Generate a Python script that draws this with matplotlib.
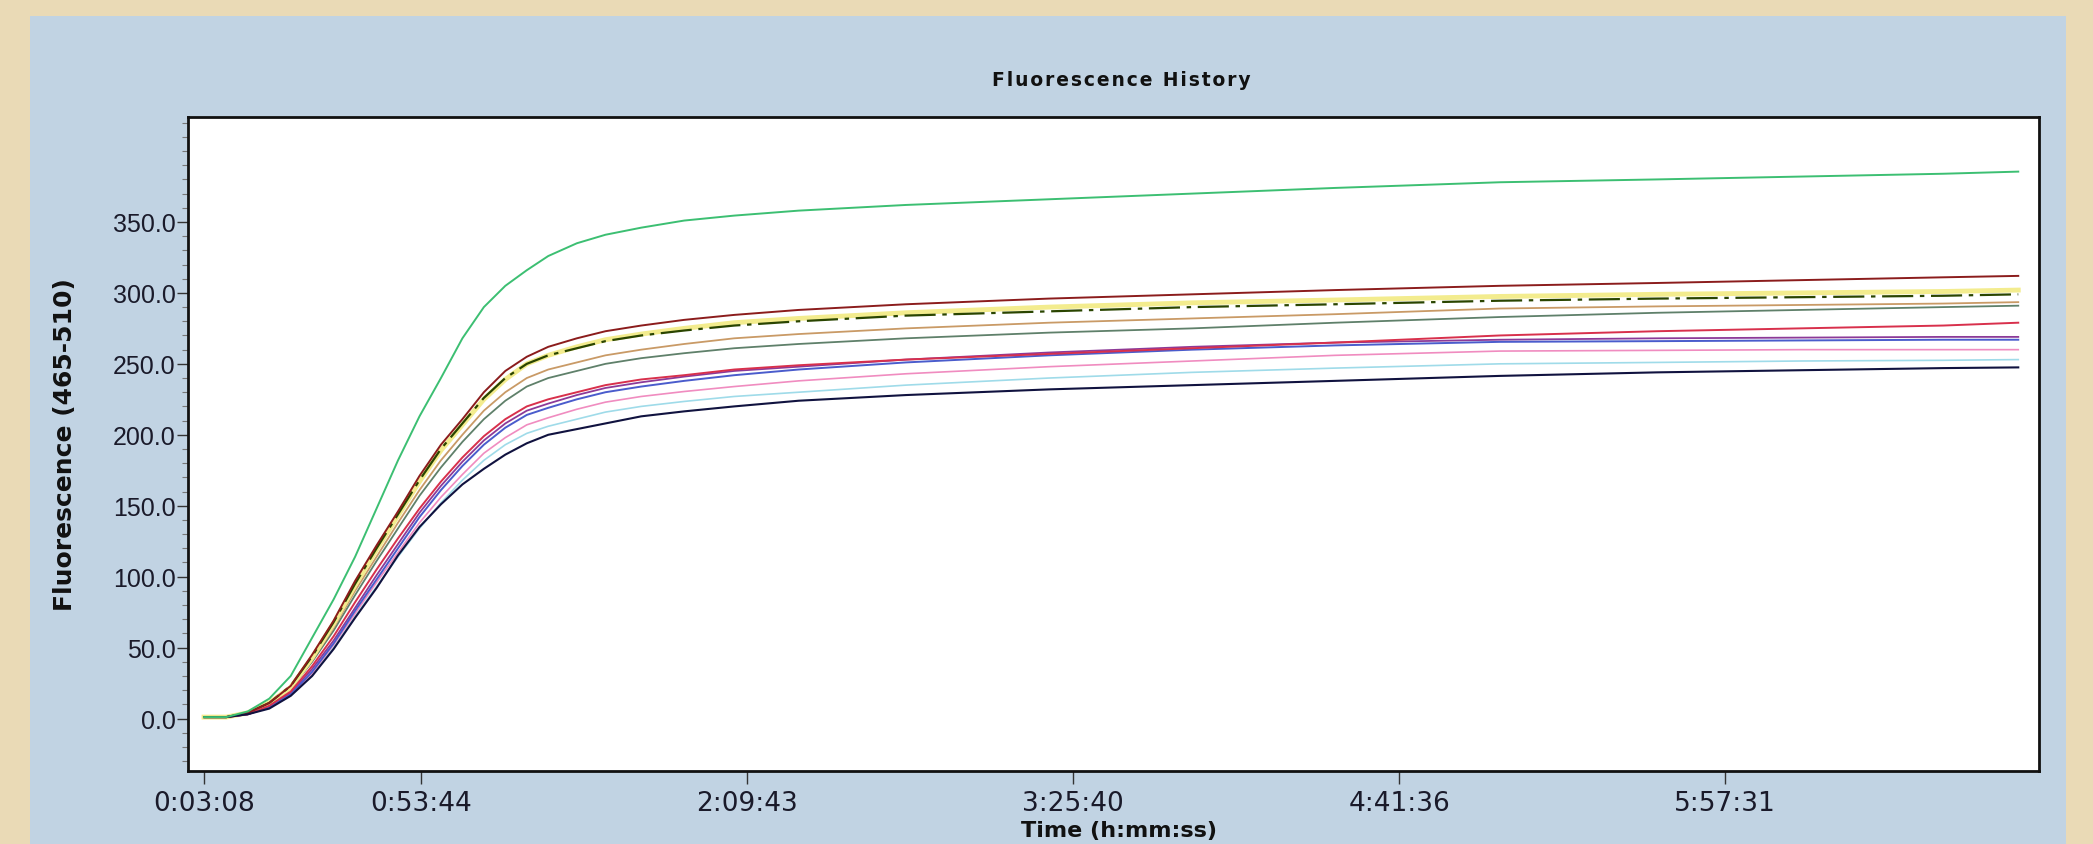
import matplotlib.pyplot as plt
from matplotlib.patches import Rectangle
from matplotlib.ticker import MultipleLocator

W, H = 2093, 845

# time in seconds since start of run
t = [188, 500, 800, 1100, 1400, 1700, 2000, 2300, 2600, 2900, 3200, 3500, 3800, 4100,
     4400, 4700, 5000, 5400, 5800, 6300, 6900, 7600, 8500, 10000, 12000, 14000, 16000,
     18300, 20500, 22500, 24500, 25550]

green = [1, 1, 5, 14, 30, 57, 84, 114, 148, 182, 213, 240, 268, 290, 305, 316, 326, 335,
         341, 346, 351, 354.5, 358, 362, 366, 370, 374, 378, 380, 382, 384, 385.5]
dark_red = [1, 1, 4, 11, 23, 45, 69, 97, 122, 146, 171, 193, 211, 230, 245, 255, 262, 268,
            273, 277, 281, 284.5, 288, 292, 296, 299, 302, 305, 307, 309, 311, 312]
yellow = [1, 1, 4, 11, 22, 43, 67, 94, 119, 143, 167, 189, 207, 225, 239, 250, 256, 262,
          267, 271, 275, 279, 282, 286, 290, 293, 295, 297.5, 299, 300, 301, 302]
olive = [1, 1, 4, 11, 23, 44, 68, 95, 120, 144, 168, 190, 208, 226, 240, 250, 256, 261,
         266, 270, 273.5, 277, 280, 284, 287, 290, 292, 294.5, 296, 297, 298, 299]
tan = [1, 1, 4, 10, 21, 41, 64, 90, 114, 138, 161, 182, 200, 217, 230, 240, 246, 251,
       256, 260, 264, 268, 271, 275, 279, 282, 285, 289, 290.5, 291.5, 292.5, 293.5]
gray_green = [1, 1, 4, 10, 21, 40, 62, 87, 111, 134, 157, 177, 195, 211, 224, 234, 240, 245,
              250, 254, 257.5, 261, 264, 268, 272, 275, 279, 283, 286, 288, 290, 291]
red = [1, 1, 3, 9, 19, 37, 58, 82, 105, 127, 148, 167, 184, 199, 211, 220, 225, 230,
       235, 239, 242, 246, 249, 253, 257, 261, 265, 270, 273, 275, 277, 279]
purple = [1, 1, 3, 8, 18, 35, 55, 78, 101, 123, 145, 164, 181, 196, 208, 217, 222, 228,
          233, 237, 241, 245, 248, 253, 258, 262, 265, 267, 268, 268.5, 269, 269]
blue = [1, 1, 3, 8, 17, 33, 53, 76, 98, 120, 142, 161, 178, 193, 205, 214, 219, 225,
        230, 234, 238, 242, 246, 251, 256, 260, 263, 265.5, 266, 266.5, 267, 267]
pink = [1, 1, 3, 8, 17, 32, 52, 74, 96, 117, 138, 156, 172, 187, 198, 207, 212, 218,
        223, 227, 230.5, 234, 238, 243, 248, 252, 256, 259, 259.5, 260, 260, 260]
cyan = [1, 1, 3, 8, 16, 31, 50, 72, 93, 114, 134, 152, 168, 182, 193, 201, 206, 211,
        216, 220, 223.5, 227, 230, 235, 240, 244, 247, 250, 251, 252, 252.5, 253]
navy = [1, 1, 3, 7, 16, 30, 49, 71, 92, 115, 135, 151, 165, 176, 186, 194, 200, 204,
        208, 213, 216.5, 220, 224, 228, 232, 235, 238, 241.5, 244, 245.5, 247, 247.5]

x_ticks = [188, 3224, 7783, 12340, 16896, 21451]
x_labels = ["0:03:08", "0:53:44", "2:09:43", "3:25:40", "4:41:36", "5:57:31"]
y_ticks = [0, 50, 100, 150, 200, 250, 300, 350]

fig = plt.figure(figsize=(W / 100, H / 100), dpi=100, facecolor="#eadab6")
fig.patches.append(Rectangle((30 / W, 0), 2036 / W, 1 - 17 / H, transform=fig.transFigure,
                             facecolor="#c1d3e3", edgecolor="none", zorder=-5))

ax = fig.add_axes([188 / W, 1 - 772 / H, (2039 - 188) / W, (772 - 118) / H])
ax.set_zorder(2)
ax.set_facecolor("white")

ax.plot(t, cyan, color="#9fdbe9", lw=1.2)
ax.plot(t, pink, color="#f08cc0", lw=1.2)
ax.plot(t, gray_green, color="#5f806a", lw=1.3)
ax.plot(t, tan, color="#c99a66", lw=1.3)
ax.plot(t, yellow, color="#f3ec8e", lw=3.5)
ax.plot(t, olive, color="#2a4500", lw=1.6, ls=(0, (14, 3, 2, 3)))
ax.plot(t, purple, color="#8c3a98", lw=1.3)
ax.plot(t, blue, color="#4a5ccc", lw=1.4)
ax.plot(t, red, color="#d8304c", lw=1.4)
ax.plot(t, dark_red, color="#8b1c1c", lw=1.4)
ax.plot(t, navy, color="#10123f", lw=1.5)
ax.plot(t, green, color="#3cbf72", lw=1.4)

ax.set_xlim(-36, 25840)
ax.set_ylim(-37, 424)

ax.set_xticks(x_ticks)
ax.set_xticklabels(x_labels, fontsize=19, color="#1a1a2a")
ax.set_yticks(y_ticks)
ax.set_yticklabels([f"{v:.1f}" for v in y_ticks], fontsize=18, color="#1a1a2a",
                   family=["Liberation Sans", "DejaVu Sans"])
ax.yaxis.set_minor_locator(MultipleLocator(10))
ax.tick_params(axis="y", which="major", length=8, width=1, pad=1, color="#333333")
ax.tick_params(axis="y", which="minor", length=4, width=0.8, color="#777777")
ax.tick_params(axis="x", which="major", length=9, width=1, pad=5, color="#333333")

for s in ax.spines.values():
    s.set_linewidth(2)
    s.set_color("#111111")

title = "\u200a".join("Fluorescence History")
fig.text(1121 / W, 1 - 80 / H, title, ha="center", va="center", fontsize=13.5,
         fontweight="bold", color="#111111")
fig.text(65 / W, 1 - 445 / H, "Fluorescence (465-510)", rotation=90, ha="center",
         va="center", fontsize=18, fontweight="bold", color="#111111")
fig.text(1119 / W, 1 - 831 / H, "Time (h:mm:ss)", ha="center", va="center",
         fontsize=16, fontweight="bold", color="#111111")

fig.savefig("out.png", dpi=100, facecolor=fig.get_facecolor())
